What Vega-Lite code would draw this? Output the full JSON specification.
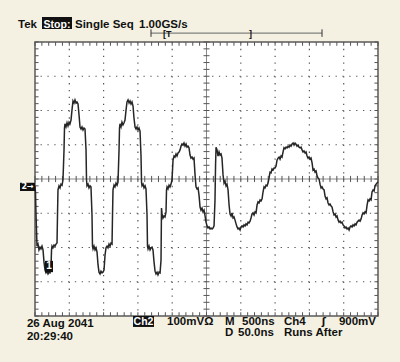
{
"$schema":"https://vega.github.io/schema/vega-lite/v6.json",
"width":343,"height":274,
"autosize":"none",
"padding":{"left":35,"top":42,"right":22,"bottom":46},
"background":"#f4f1e2",
"config":{"view":{"fill":"#ffffff","stroke":"#5a5a5a","strokeWidth":1.5}},
"datasets":{
"wave":[{"t":0,"v":-20},{"t":7,"v":-38},{"t":15,"v":-105},{"t":29,"v":-196},{"t":44,"v":-190},{"t":58,"v":-207},{"t":73,"v":-199},{"t":87,"v":-204},{"t":102,"v":-196},{"t":117,"v":-207},{"t":131,"v":-242},{"t":146,"v":-266},{"t":160,"v":-274},{"t":175,"v":-269},{"t":190,"v":-277},{"t":204,"v":-272},{"t":219,"v":-274},{"t":233,"v":-260},{"t":241,"v":-207},{"t":248,"v":-196},{"t":262,"v":-201},{"t":277,"v":-193},{"t":292,"v":-196},{"t":306,"v":-190},{"t":321,"v":-187},{"t":328,"v":-105},{"t":335,"v":-32},{"t":350,"v":-20},{"t":365,"v":-26},{"t":379,"v":-15},{"t":394,"v":-18},{"t":408,"v":-3},{"t":423,"v":85},{"t":430,"v":149},{"t":437,"v":161},{"t":452,"v":152},{"t":467,"v":164},{"t":481,"v":155},{"t":496,"v":166},{"t":510,"v":161},{"t":525,"v":172},{"t":539,"v":201},{"t":554,"v":228},{"t":569,"v":222},{"t":583,"v":231},{"t":598,"v":222},{"t":612,"v":225},{"t":627,"v":219},{"t":642,"v":187},{"t":656,"v":152},{"t":671,"v":146},{"t":685,"v":152},{"t":700,"v":143},{"t":714,"v":149},{"t":729,"v":146},{"t":744,"v":85},{"t":751,"v":-3},{"t":758,"v":-20},{"t":773,"v":-15},{"t":787,"v":-26},{"t":802,"v":-20},{"t":816,"v":-23},{"t":831,"v":-105},{"t":838,"v":-196},{"t":846,"v":-204},{"t":860,"v":-196},{"t":875,"v":-207},{"t":889,"v":-201},{"t":904,"v":-213},{"t":919,"v":-251},{"t":933,"v":-272},{"t":948,"v":-277},{"t":962,"v":-269},{"t":977,"v":-274},{"t":991,"v":-272},{"t":1006,"v":-266},{"t":1021,"v":-222},{"t":1035,"v":-201},{"t":1050,"v":-196},{"t":1064,"v":-201},{"t":1079,"v":-190},{"t":1094,"v":-196},{"t":1108,"v":-187},{"t":1123,"v":-190},{"t":1130,"v":-105},{"t":1137,"v":-32},{"t":1152,"v":-18},{"t":1166,"v":-23},{"t":1181,"v":-12},{"t":1196,"v":-18},{"t":1210,"v":-9},{"t":1225,"v":85},{"t":1232,"v":149},{"t":1239,"v":161},{"t":1254,"v":152},{"t":1268,"v":166},{"t":1283,"v":158},{"t":1298,"v":164},{"t":1312,"v":172},{"t":1327,"v":201},{"t":1341,"v":225},{"t":1356,"v":231},{"t":1371,"v":222},{"t":1385,"v":228},{"t":1400,"v":219},{"t":1414,"v":225},{"t":1429,"v":213},{"t":1443,"v":178},{"t":1458,"v":152},{"t":1473,"v":146},{"t":1487,"v":152},{"t":1502,"v":143},{"t":1516,"v":149},{"t":1531,"v":140},{"t":1545,"v":70},{"t":1553,"v":-9},{"t":1560,"v":-20},{"t":1575,"v":-15},{"t":1589,"v":-26},{"t":1604,"v":-20},{"t":1618,"v":-29},{"t":1633,"v":-105},{"t":1640,"v":-196},{"t":1648,"v":-204},{"t":1662,"v":-196},{"t":1677,"v":-207},{"t":1691,"v":-201},{"t":1706,"v":-199},{"t":1720,"v":-207},{"t":1735,"v":-242},{"t":1750,"v":-269},{"t":1764,"v":-277},{"t":1779,"v":-272},{"t":1793,"v":-280},{"t":1808,"v":-272},{"t":1823,"v":-274},{"t":1837,"v":-237},{"t":1844,"v":-85},{"t":1852,"v":-102},{"t":1866,"v":-114},{"t":1881,"v":-108},{"t":1895,"v":-111},{"t":1910,"v":-96},{"t":1917,"v":-32},{"t":1925,"v":-23},{"t":1939,"v":-29},{"t":1954,"v":-18},{"t":1968,"v":-23},{"t":1983,"v":-15},{"t":1997,"v":-3},{"t":2012,"v":55},{"t":2027,"v":67},{"t":2041,"v":64},{"t":2056,"v":73},{"t":2070,"v":67},{"t":2085,"v":76},{"t":2100,"v":79},{"t":2114,"v":85},{"t":2129,"v":96},{"t":2143,"v":102},{"t":2158,"v":99},{"t":2172,"v":105},{"t":2187,"v":96},{"t":2202,"v":102},{"t":2216,"v":93},{"t":2231,"v":96},{"t":2245,"v":91},{"t":2260,"v":70},{"t":2274,"v":61},{"t":2289,"v":64},{"t":2304,"v":58},{"t":2318,"v":61},{"t":2333,"v":12},{"t":2347,"v":-23},{"t":2362,"v":-29},{"t":2377,"v":-26},{"t":2391,"v":-47},{"t":2406,"v":-82},{"t":2420,"v":-91},{"t":2435,"v":-85},{"t":2449,"v":-96},{"t":2464,"v":-91},{"t":2479,"v":-108},{"t":2493,"v":-126},{"t":2508,"v":-137},{"t":2522,"v":-143},{"t":2537,"v":-140},{"t":2552,"v":-146},{"t":2566,"v":-143},{"t":2581,"v":-146},{"t":2595,"v":-143},{"t":2610,"v":-137},{"t":2624,"v":-61},{"t":2632,"v":41},{"t":2639,"v":93},{"t":2654,"v":85},{"t":2668,"v":67},{"t":2683,"v":79},{"t":2697,"v":70},{"t":2712,"v":73},{"t":2726,"v":61},{"t":2741,"v":12},{"t":2756,"v":-12},{"t":2770,"v":-6},{"t":2785,"v":-20},{"t":2799,"v":-15},{"t":2814,"v":-32},{"t":2829,"v":-76},{"t":2843,"v":-102},{"t":2858,"v":-108},{"t":2872,"v":-99},{"t":2887,"v":-114},{"t":2901,"v":-111},{"t":2916,"v":-120},{"t":2931,"v":-131},{"t":2945,"v":-140},{"t":2960,"v":-146},{"t":2974,"v":-143},{"t":2989,"v":-149},{"t":3003,"v":-140},{"t":3018,"v":-137},{"t":3033,"v":-140},{"t":3047,"v":-134},{"t":3062,"v":-137},{"t":3076,"v":-131},{"t":3091,"v":-134},{"t":3106,"v":-126},{"t":3120,"v":-128},{"t":3135,"v":-123},{"t":3149,"v":-114},{"t":3164,"v":-102},{"t":3178,"v":-99},{"t":3193,"v":-105},{"t":3208,"v":-96},{"t":3222,"v":-99},{"t":3237,"v":-76},{"t":3251,"v":-67},{"t":3266,"v":-70},{"t":3281,"v":-61},{"t":3295,"v":-64},{"t":3310,"v":-58},{"t":3324,"v":-38},{"t":3339,"v":-23},{"t":3353,"v":-26},{"t":3368,"v":-18},{"t":3383,"v":-20},{"t":3397,"v":-12},{"t":3412,"v":3},{"t":3426,"v":20},{"t":3441,"v":18},{"t":3455,"v":29},{"t":3470,"v":26},{"t":3485,"v":32},{"t":3499,"v":32},{"t":3514,"v":38},{"t":3528,"v":55},{"t":3543,"v":61},{"t":3558,"v":64},{"t":3572,"v":58},{"t":3587,"v":67},{"t":3601,"v":64},{"t":3616,"v":79},{"t":3630,"v":91},{"t":3645,"v":88},{"t":3660,"v":93},{"t":3674,"v":91},{"t":3689,"v":96},{"t":3703,"v":93},{"t":3718,"v":99},{"t":3732,"v":96},{"t":3747,"v":102},{"t":3762,"v":105},{"t":3776,"v":99},{"t":3791,"v":105},{"t":3805,"v":102},{"t":3820,"v":96},{"t":3835,"v":99},{"t":3849,"v":93},{"t":3864,"v":91},{"t":3878,"v":93},{"t":3893,"v":85},{"t":3907,"v":79},{"t":3922,"v":82},{"t":3937,"v":76},{"t":3951,"v":79},{"t":3966,"v":67},{"t":3980,"v":61},{"t":3995,"v":64},{"t":4010,"v":58},{"t":4024,"v":61},{"t":4039,"v":47},{"t":4053,"v":26},{"t":4068,"v":29},{"t":4082,"v":20},{"t":4097,"v":23},{"t":4112,"v":9},{"t":4126,"v":3},{"t":4141,"v":0},{"t":4155,"v":-15},{"t":4170,"v":-26},{"t":4184,"v":-23},{"t":4199,"v":-29},{"t":4214,"v":-32},{"t":4228,"v":-50},{"t":4243,"v":-58},{"t":4257,"v":-55},{"t":4272,"v":-70},{"t":4287,"v":-76},{"t":4301,"v":-73},{"t":4316,"v":-79},{"t":4330,"v":-82},{"t":4345,"v":-96},{"t":4359,"v":-105},{"t":4374,"v":-102},{"t":4389,"v":-111},{"t":4403,"v":-108},{"t":4418,"v":-120},{"t":4432,"v":-126},{"t":4447,"v":-123},{"t":4461,"v":-128},{"t":4476,"v":-126},{"t":4491,"v":-134},{"t":4505,"v":-137},{"t":4520,"v":-143},{"t":4534,"v":-140},{"t":4549,"v":-146},{"t":4564,"v":-143},{"t":4578,"v":-149},{"t":4593,"v":-140},{"t":4607,"v":-137},{"t":4622,"v":-140},{"t":4636,"v":-134},{"t":4651,"v":-137},{"t":4666,"v":-131},{"t":4680,"v":-134},{"t":4695,"v":-126},{"t":4709,"v":-123},{"t":4724,"v":-120},{"t":4739,"v":-123},{"t":4753,"v":-117},{"t":4768,"v":-105},{"t":4782,"v":-99},{"t":4797,"v":-102},{"t":4811,"v":-96},{"t":4826,"v":-99},{"t":4841,"v":-76},{"t":4855,"v":-61},{"t":4870,"v":-64},{"t":4884,"v":-58},{"t":4899,"v":-61},{"t":4913,"v":-38},{"t":4928,"v":-32},{"t":4943,"v":-35},{"t":4957,"v":-20},{"t":4972,"v":-15},{"t":4986,"v":-12},{"t":5000,"v":-9}],
"xt":[{"t":0},{"t":100},{"t":200},{"t":300},{"t":400},{"t":500},{"t":600},{"t":700},{"t":800},{"t":900},{"t":1000},{"t":1100},{"t":1200},{"t":1300},{"t":1400},{"t":1500},{"t":1600},{"t":1700},{"t":1800},{"t":1900},{"t":2000},{"t":2100},{"t":2200},{"t":2300},{"t":2400},{"t":2500},{"t":2600},{"t":2700},{"t":2800},{"t":2900},{"t":3000},{"t":3100},{"t":3200},{"t":3300},{"t":3400},{"t":3500},{"t":3600},{"t":3700},{"t":3800},{"t":3900},{"t":4000},{"t":4100},{"t":4200},{"t":4300},{"t":4400},{"t":4500},{"t":4600},{"t":4700},{"t":4800},{"t":4900},{"t":5000}],
"yt":[{"v":-400},{"v":-380},{"v":-360},{"v":-340},{"v":-320},{"v":-300},{"v":-280},{"v":-260},{"v":-240},{"v":-220},{"v":-200},{"v":-180},{"v":-160},{"v":-140},{"v":-120},{"v":-100},{"v":-80},{"v":-60},{"v":-40},{"v":-20},{"v":0},{"v":20},{"v":40},{"v":60},{"v":80},{"v":100},{"v":120},{"v":140},{"v":160},{"v":180},{"v":200},{"v":220},{"v":240},{"v":260},{"v":280},{"v":300},{"v":320},{"v":340},{"v":360},{"v":380},{"v":400}],
"xg":[{"t":500},{"t":1000},{"t":1500},{"t":2000},{"t":3000},{"t":3500},{"t":4000},{"t":4500}],
"yg":[{"v":-300},{"v":-200},{"v":-100},{"v":100},{"v":200},{"v":300}]
},
"layer":[
{"data":{"name":"xg"},"mark":{"type":"rule","color":"#555555","strokeWidth":1.2,"strokeDash":[1.3,5.55]},
 "encoding":{"x":{"field":"t","type":"quantitative","scale":{"domain":[0,5000],"nice":false,"zero":false},"axis":null}}},
{"data":{"name":"yg"},"mark":{"type":"rule","color":"#555555","strokeWidth":1.2,"strokeDash":[1.3,5.56]},
 "encoding":{"y":{"field":"v","type":"quantitative","scale":{"domain":[-400,400],"nice":false,"zero":false},"axis":null}}},
{"data":{"values":[{}]},"mark":{"type":"rule","color":"#8a8a8a","strokeWidth":1},
 "encoding":{"y":{"datum":0,"type":"quantitative","scale":{"domain":[-400,400],"nice":false,"zero":false},"axis":null}}},
{"data":{"values":[{}]},"mark":{"type":"rule","color":"#8a8a8a","strokeWidth":1},
 "encoding":{"x":{"datum":2500,"type":"quantitative","scale":{"domain":[0,5000],"nice":false,"zero":false},"axis":null}}},
{"data":{"name":"xt"},"mark":{"type":"rule","color":"#555555","strokeWidth":1},
 "encoding":{"x":{"field":"t","type":"quantitative","scale":{"domain":[0,5000],"nice":false,"zero":false},"axis":null},
  "y":{"datum":400,"type":"quantitative","scale":{"domain":[-400,400],"nice":false,"zero":false},"axis":null},"y2":{"datum":389}}},
{"data":{"name":"xt"},"mark":{"type":"rule","color":"#555555","strokeWidth":1},
 "encoding":{"x":{"field":"t","type":"quantitative","scale":{"domain":[0,5000],"nice":false,"zero":false},"axis":null},
  "y":{"datum":-400,"type":"quantitative","scale":{"domain":[-400,400],"nice":false,"zero":false},"axis":null},"y2":{"datum":-389}}},
{"data":{"name":"xt"},"mark":{"type":"rule","color":"#555555","strokeWidth":1},
 "encoding":{"x":{"field":"t","type":"quantitative","scale":{"domain":[0,5000],"nice":false,"zero":false},"axis":null},
  "y":{"datum":-9,"type":"quantitative","scale":{"domain":[-400,400],"nice":false,"zero":false},"axis":null},"y2":{"datum":9}}},
{"data":{"name":"yt"},"mark":{"type":"rule","color":"#555555","strokeWidth":1},
 "encoding":{"y":{"field":"v","type":"quantitative","scale":{"domain":[-400,400],"nice":false,"zero":false},"axis":null},
  "x":{"datum":0,"type":"quantitative","scale":{"domain":[0,5000],"nice":false,"zero":false},"axis":null},"x2":{"datum":52}}},
{"data":{"name":"yt"},"mark":{"type":"rule","color":"#555555","strokeWidth":1},
 "encoding":{"y":{"field":"v","type":"quantitative","scale":{"domain":[-400,400],"nice":false,"zero":false},"axis":null},
  "x":{"datum":4948,"type":"quantitative","scale":{"domain":[0,5000],"nice":false,"zero":false},"axis":null},"x2":{"datum":5000}}},
{"data":{"name":"yt"},"mark":{"type":"rule","color":"#555555","strokeWidth":1},
 "encoding":{"y":{"field":"v","type":"quantitative","scale":{"domain":[-400,400],"nice":false,"zero":false},"axis":null},
  "x":{"datum":2456,"type":"quantitative","scale":{"domain":[0,5000],"nice":false,"zero":false},"axis":null},"x2":{"datum":2544}}},
{"data":{"name":"wave"},"mark":{"type":"line","color":"#262626","strokeWidth":1.5},
 "encoding":{
  "x":{"field":"t","type":"quantitative","scale":{"domain":[0,5000],"nice":false,"zero":false},"axis":null},
  "y":{"field":"v","type":"quantitative","scale":{"domain":[-400,400],"nice":false,"zero":false},"axis":null}}},
{"data":{"values":[{}]},"mark":{"type":"rect","color":"#111111"},
 "encoding":{"x":{"datum":102,"type":"quantitative","scale":{"domain":[0,5000],"nice":false,"zero":false},"axis":null},"x2":{"datum":539},
  "y":{"datum":473,"type":"quantitative","scale":{"domain":[-400,400],"nice":false,"zero":false},"axis":null},"y2":{"datum":438}}},
{"data":{"values":[{}]},"mark":{"type":"rect","color":"#111111"},
 "encoding":{"x":{"datum":1429,"type":"quantitative","scale":{"domain":[0,5000],"nice":false,"zero":false},"axis":null},"x2":{"datum":1735},
  "y":{"datum":-400,"type":"quantitative","scale":{"domain":[-400,400],"nice":false,"zero":false},"axis":null},"y2":{"datum":-432}}},
{"data":{"values":[{}]},"mark":{"type":"rect","color":"#111111"},
 "encoding":{"x":{"datum":-219,"type":"quantitative","scale":{"domain":[0,5000],"nice":false,"zero":false},"axis":null},"x2":{"datum":0},
  "y":{"datum":-11,"type":"quantitative","scale":{"domain":[-400,400],"nice":false,"zero":false},"axis":null},"y2":{"datum":-35}}},
{"data":{"values":[{}]},"mark":{"type":"rect","color":"#111111"},
 "encoding":{"x":{"datum":146,"type":"quantitative","scale":{"domain":[0,5000],"nice":false,"zero":false},"axis":null},"x2":{"datum":262},
  "y":{"datum":-239,"type":"quantitative","scale":{"domain":[-400,400],"nice":false,"zero":false},"axis":null},"y2":{"datum":-272}}},
{"data":{"values":[{}]},"mark":{"type":"rule","color":"#666666","strokeWidth":1},
 "encoding":{"x":{"datum":1691,"type":"quantitative","scale":{"domain":[0,5000],"nice":false,"zero":false},"axis":null},"x2":{"datum":4184},
  "y":{"datum":426,"type":"quantitative","scale":{"domain":[-400,400],"nice":false,"zero":false},"axis":null}}},
{"data":{"values":[{}]},"mark":{"type":"rule","color":"#333333","strokeWidth":1},
 "encoding":{"x":{"datum":1691,"type":"quantitative","scale":{"domain":[0,5000],"nice":false,"zero":false},"axis":null},
  "y":{"datum":437,"type":"quantitative","scale":{"domain":[-400,400],"nice":false,"zero":false},"axis":null},"y2":{"datum":415}}},
{"data":{"values":[{}]},"mark":{"type":"rule","color":"#333333","strokeWidth":1},
 "encoding":{"x":{"datum":4184,"type":"quantitative","scale":{"domain":[0,5000],"nice":false,"zero":false},"axis":null},
  "y":{"datum":437,"type":"quantitative","scale":{"domain":[-400,400],"nice":false,"zero":false},"axis":null},"y2":{"datum":415}}},
{"data":{"values":[{}]},"mark":{"type":"text","text":"Tek","align":"left","baseline":"alphabetic","font":"Liberation Sans","fontSize":11.5,"fontWeight":"bold","color":"#111111"},
 "encoding":{"x":{"datum":-248,"type":"quantitative","scale":{"domain":[0,5000],"nice":false,"zero":false},"axis":null},"y":{"datum":442,"type":"quantitative","scale":{"domain":[-400,400],"nice":false,"zero":false},"axis":null}}},
{"data":{"values":[{}]},"mark":{"type":"text","text":"Stop:","align":"center","baseline":"alphabetic","font":"Liberation Sans","fontSize":10.5,"fontWeight":"bold","color":"#ffffff"},
 "encoding":{"x":{"datum":321,"type":"quantitative","scale":{"domain":[0,5000],"nice":false,"zero":false},"axis":null},"y":{"datum":442,"type":"quantitative","scale":{"domain":[-400,400],"nice":false,"zero":false},"axis":null}}},
{"data":{"values":[{}]},"mark":{"type":"text","text":"Single Seq","align":"left","baseline":"alphabetic","font":"Liberation Sans","fontSize":11.5,"fontWeight":"bold","color":"#111111"},
 "encoding":{"x":{"datum":583,"type":"quantitative","scale":{"domain":[0,5000],"nice":false,"zero":false},"axis":null},"y":{"datum":442,"type":"quantitative","scale":{"domain":[-400,400],"nice":false,"zero":false},"axis":null}}},
{"data":{"values":[{}]},"mark":{"type":"text","text":"1.00GS/s","align":"left","baseline":"alphabetic","font":"Liberation Sans","fontSize":11.5,"fontWeight":"bold","color":"#111111"},
 "encoding":{"x":{"datum":1516,"type":"quantitative","scale":{"domain":[0,5000],"nice":false,"zero":false},"axis":null},"y":{"datum":442,"type":"quantitative","scale":{"domain":[-400,400],"nice":false,"zero":false},"axis":null}}},
{"data":{"values":[{}]},"mark":{"type":"text","text":"[T","align":"left","baseline":"middle","font":"Liberation Sans","fontSize":9,"fontWeight":"bold","color":"#111111"},
 "encoding":{"x":{"datum":1866,"type":"quantitative","scale":{"domain":[0,5000],"nice":false,"zero":false},"axis":null},"y":{"datum":423,"type":"quantitative","scale":{"domain":[-400,400],"nice":false,"zero":false},"axis":null}}},
{"data":{"values":[{}]},"mark":{"type":"text","text":"]","align":"center","baseline":"middle","font":"Liberation Sans","fontSize":9,"fontWeight":"bold","color":"#111111"},
 "encoding":{"x":{"datum":3142,"type":"quantitative","scale":{"domain":[0,5000],"nice":false,"zero":false},"axis":null},"y":{"datum":423,"type":"quantitative","scale":{"domain":[-400,400],"nice":false,"zero":false},"axis":null}}},
{"data":{"values":[{}]},"mark":{"type":"text","text":"2→","align":"center","baseline":"middle","font":"DejaVu Sans","fontSize":8,"fontWeight":"bold","color":"#ffffff"},
 "encoding":{"x":{"datum":-109,"type":"quantitative","scale":{"domain":[0,5000],"nice":false,"zero":false},"axis":null},"y":{"datum":-23,"type":"quantitative","scale":{"domain":[-400,400],"nice":false,"zero":false},"axis":null}}},
{"data":{"values":[{}]},"mark":{"type":"text","text":"1","align":"center","baseline":"middle","font":"Liberation Sans","fontSize":10,"fontWeight":"bold","color":"#ffffff"},
 "encoding":{"x":{"datum":204,"type":"quantitative","scale":{"domain":[0,5000],"nice":false,"zero":false},"axis":null},"y":{"datum":-255,"type":"quantitative","scale":{"domain":[-400,400],"nice":false,"zero":false},"axis":null}}},
{"data":{"values":[{}]},"mark":{"type":"text","text":"26 Aug 2041","align":"left","baseline":"alphabetic","font":"Liberation Sans","fontSize":11.5,"fontWeight":"bold","color":"#111111"},
 "encoding":{"x":{"datum":-117,"type":"quantitative","scale":{"domain":[0,5000],"nice":false,"zero":false},"axis":null},"y":{"datum":-433,"type":"quantitative","scale":{"domain":[-400,400],"nice":false,"zero":false},"axis":null}}},
{"data":{"values":[{}]},"mark":{"type":"text","text":"20:29:40","align":"left","baseline":"alphabetic","font":"Liberation Sans","fontSize":11.5,"fontWeight":"bold","color":"#111111"},
 "encoding":{"x":{"datum":-117,"type":"quantitative","scale":{"domain":[0,5000],"nice":false,"zero":false},"axis":null},"y":{"datum":-470,"type":"quantitative","scale":{"domain":[-400,400],"nice":false,"zero":false},"axis":null}}},
{"data":{"values":[{}]},"mark":{"type":"text","text":"Ch2","align":"center","baseline":"alphabetic","font":"Liberation Sans","fontSize":10.5,"fontWeight":"bold","color":"#ffffff"},
 "encoding":{"x":{"datum":1582,"type":"quantitative","scale":{"domain":[0,5000],"nice":false,"zero":false},"axis":null},"y":{"datum":-426,"type":"quantitative","scale":{"domain":[-400,400],"nice":false,"zero":false},"axis":null}}},
{"data":{"values":[{}]},"mark":{"type":"text","text":"100mVΩ","align":"left","baseline":"alphabetic","font":"Liberation Sans","fontSize":11.5,"fontWeight":"bold","color":"#111111"},
 "encoding":{"x":{"datum":1925,"type":"quantitative","scale":{"domain":[0,5000],"nice":false,"zero":false},"axis":null},"y":{"datum":-426,"type":"quantitative","scale":{"domain":[-400,400],"nice":false,"zero":false},"axis":null}}},
{"data":{"values":[{}]},"mark":{"type":"text","text":"M","align":"left","baseline":"alphabetic","font":"Liberation Sans","fontSize":11.5,"fontWeight":"bold","color":"#111111"},
 "encoding":{"x":{"datum":2770,"type":"quantitative","scale":{"domain":[0,5000],"nice":false,"zero":false},"axis":null},"y":{"datum":-426,"type":"quantitative","scale":{"domain":[-400,400],"nice":false,"zero":false},"axis":null}}},
{"data":{"values":[{}]},"mark":{"type":"text","text":"500ns","align":"left","baseline":"alphabetic","font":"Liberation Sans","fontSize":11.5,"fontWeight":"bold","color":"#111111"},
 "encoding":{"x":{"datum":3018,"type":"quantitative","scale":{"domain":[0,5000],"nice":false,"zero":false},"axis":null},"y":{"datum":-426,"type":"quantitative","scale":{"domain":[-400,400],"nice":false,"zero":false},"axis":null}}},
{"data":{"values":[{}]},"mark":{"type":"text","text":"Ch4","align":"left","baseline":"alphabetic","font":"Liberation Sans","fontSize":11.5,"fontWeight":"bold","color":"#111111"},
 "encoding":{"x":{"datum":3630,"type":"quantitative","scale":{"domain":[0,5000],"nice":false,"zero":false},"axis":null},"y":{"datum":-426,"type":"quantitative","scale":{"domain":[-400,400],"nice":false,"zero":false},"axis":null}}},
{"data":{"values":[{}]},"mark":{"type":"text","text":"ʃ","align":"center","baseline":"alphabetic","font":"DejaVu Sans","fontSize":10,"fontWeight":"bold","color":"#111111"},
 "encoding":{"x":{"datum":4210,"type":"quantitative","scale":{"domain":[0,5000],"nice":false,"zero":false},"axis":null},"y":{"datum":-426,"type":"quantitative","scale":{"domain":[-400,400],"nice":false,"zero":false},"axis":null}}},
{"data":{"values":[{}]},"mark":{"type":"text","text":"900mV","align":"left","baseline":"alphabetic","font":"Liberation Sans","fontSize":11.5,"fontWeight":"bold","color":"#111111"},
 "encoding":{"x":{"datum":4430,"type":"quantitative","scale":{"domain":[0,5000],"nice":false,"zero":false},"axis":null},"y":{"datum":-426,"type":"quantitative","scale":{"domain":[-400,400],"nice":false,"zero":false},"axis":null}}},
{"data":{"values":[{}]},"mark":{"type":"text","text":"D","align":"left","baseline":"alphabetic","font":"Liberation Sans","fontSize":11.5,"fontWeight":"bold","color":"#111111"},
 "encoding":{"x":{"datum":2770,"type":"quantitative","scale":{"domain":[0,5000],"nice":false,"zero":false},"axis":null},"y":{"datum":-458,"type":"quantitative","scale":{"domain":[-400,400],"nice":false,"zero":false},"axis":null}}},
{"data":{"values":[{}]},"mark":{"type":"text","text":"50.0ns","align":"left","baseline":"alphabetic","font":"Liberation Sans","fontSize":11.5,"fontWeight":"bold","color":"#111111"},
 "encoding":{"x":{"datum":2960,"type":"quantitative","scale":{"domain":[0,5000],"nice":false,"zero":false},"axis":null},"y":{"datum":-458,"type":"quantitative","scale":{"domain":[-400,400],"nice":false,"zero":false},"axis":null}}},
{"data":{"values":[{}]},"mark":{"type":"text","text":"Runs After","align":"left","baseline":"alphabetic","font":"Liberation Sans","fontSize":11.5,"fontWeight":"bold","color":"#111111"},
 "encoding":{"x":{"datum":3630,"type":"quantitative","scale":{"domain":[0,5000],"nice":false,"zero":false},"axis":null},"y":{"datum":-458,"type":"quantitative","scale":{"domain":[-400,400],"nice":false,"zero":false},"axis":null}}}
]
}
